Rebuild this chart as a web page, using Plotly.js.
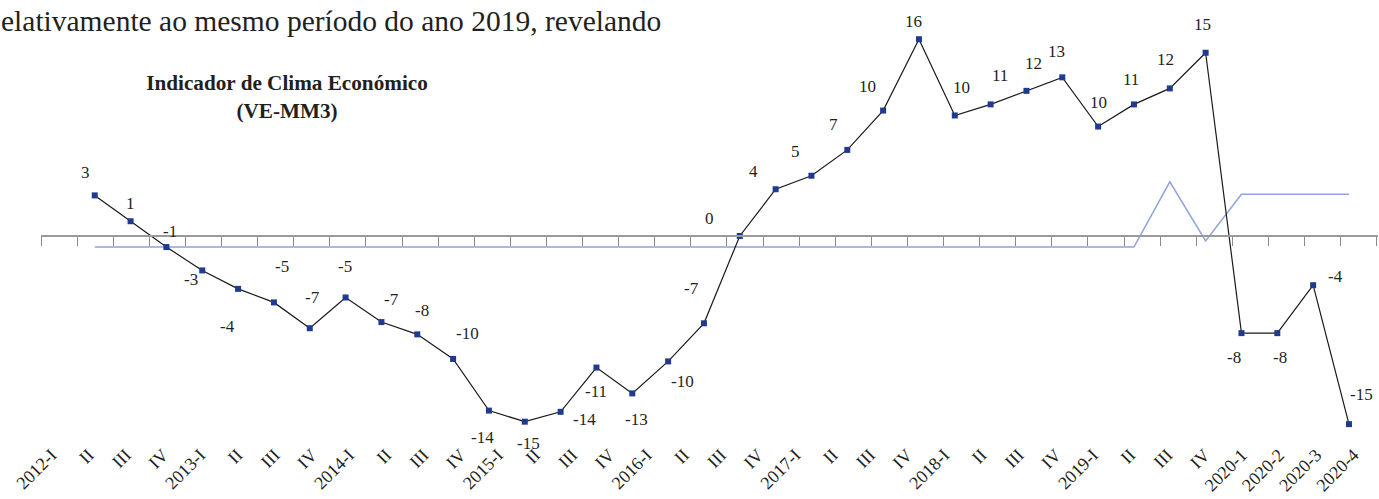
<!DOCTYPE html>
<html>
<head>
<meta charset="utf-8">
<script src="https://cdn.plot.ly/plotly-3.0.1.min.js"></script>
<style>
  html, body { margin: 0; padding: 0; background: #ffffff; }
  #chart { width: 1379px; height: 499px; }
</style>
</head>
<body>
<div id="chart"></div>
<script>
// ---- data ----
const periods = ["2012-I","II","III","IV","2013-I","II","III","IV","2014-I","II","III","IV",
                 "2015-I","II","III","IV","2016-I","II","III","IV","2017-I","II","III","IV",
                 "2018-I","II","III","IV","2019-I","II","III","IV","2020-1","2020-2","2020-3","2020-4"];

const climateIndicator = [3.3, 1.2, -0.9, -2.8, -4.3, -5.4, -7.5, -5.0, -7.0, -8.0, -10.0, -14.2,
                          -15.1, -14.3, -10.7, -12.8, -10.2, -7.1, 0.0, 3.8, 4.9, 7.0, 10.2, 16.0,
                          9.8, 10.7, 11.8, 12.9, 8.9, 10.7, 12.0, 14.9, -7.9, -7.9, -4.0, -15.3];

const climateLabels = ["3","1","-1","-3","-4","-5","-7","-5","-7","-8","-10","-14",
                       "-15","-14","-11","-13","-10","-7","0","4","5","7","10","16",
                       "10","11","12","13","10","11","12","15","-8","-8","-4","-15"];

const secondSeries = [-0.9, -0.9, -0.9, -0.9, -0.9, -0.9, -0.9, -0.9, -0.9, -0.9, -0.9, -0.9,
                      -0.9, -0.9, -0.9, -0.9, -0.9, -0.9, -0.9, -0.9, -0.9, -0.9, -0.9, -0.9,
                      -0.9, -0.9, -0.9, -0.9, -0.9, -0.9, 4.4, -0.4, 3.4, 3.4, 3.4, 3.4];

const chartTitle = "<b>Indicador de Clima Económico</b><br><b>(VE-MM3)</b>";
const bodyText = "elativamente ao mesmo período do ano 2019, revelando";

// ---- style: label offsets in pixels (dx right, dy down) ----
const labelOffsets = [[-9,-23],[0,-18],[4,-16],[-11,9],[-11,38],[8,-36],[3,-31],[-1,-31],[10,-23],[5,-24],[14,-25],[-6,27],
                      [4,22],[24,8],[0,24],[4,26],[14,20],[-12,-35],[-30,-17],[-22,-18],[-16,-24],[-14,-25],[-16,-24],[-5,-18],
                      [7,-28],[9,-29],[7,-27],[-6,-26],[0,-24],[-3,-25],[-4,-29],[-3,-28],[-7,24],[3,24],[22,-9],[13,-30]];

const idx = periods.map((p, i) => i);
const serif = "'Liberation Serif', 'Times New Roman', serif";
const textColor = "#231f20";
const yRange = [-16.59, 16.75];
const zeroPos = (0 - yRange[0]) / (yRange[1] - yRange[0]);
const plotW = 1337;

const traces = [
  {
    x: idx, y: secondSeries, type: "scatter", mode: "lines",
    line: { color: "#8fa3dc", width: 1.5 }, hoverinfo: "skip", showlegend: false
  },
  {
    x: idx, y: climateIndicator, type: "scatter", mode: "lines+markers",
    line: { color: "#1a1a1a", width: 1.2 },
    marker: { symbol: "square", size: 6, color: "#1f3a8f" },
    showlegend: false
  },
  {
    x: [0], y: [0], xaxis: "x2", type: "scatter", mode: "markers",
    marker: { opacity: 0 }, hoverinfo: "skip", showlegend: false
  },
  {
    x: [0], y: [0], xaxis: "x3", type: "scatter", mode: "markers",
    marker: { opacity: 0 }, hoverinfo: "skip", showlegend: false
  }
];

const annotations = climateLabels.map((t, i) => ({
  x: i, y: climateIndicator[i], xref: "x", yref: "y", text: t, showarrow: false,
  xshift: labelOffsets[i][0], yshift: -labelOffsets[i][1],
  font: { family: serif, size: 17, color: textColor }
}));

annotations.push({
  xref: "paper", yref: "paper", x: (663 - 41) / plotW, y: (440 - 21) / 410,
  xanchor: "right", yanchor: "middle", text: bodyText, showarrow: false,
  font: { family: serif, size: 29.5, color: textColor }
});

const layout = {
  width: 1379, height: 499,
  margin: { l: 41, r: 1, t: 30, b: 59 },
  paper_bgcolor: "#ffffff", plot_bgcolor: "#ffffff",
  title: {
    text: chartTitle, x: 287 / 1379, xanchor: "center", xref: "container",
    y: 1 - 90 / 499, yanchor: "top", yref: "container",
    font: { family: serif, size: 21.2, color: textColor }
  },
  xaxis: {
    range: [-1.5, 35.81], showticklabels: false,
    showline: false, showgrid: false, zeroline: false, ticks: ""
  },
  xaxis2: {
    overlaying: "x", anchor: "free", position: zeroPos, side: "bottom",
    range: [0, plotW / 36.1], tick0: 0, dtick: 1, tickmode: "linear",
    ticks: "outside", ticklen: 9, tickwidth: 1, tickcolor: "#8a8a8a",
    showticklabels: false, showline: true, linecolor: "#9a9a9a", linewidth: 2,
    showgrid: false, zeroline: false
  },
  xaxis3: {
    overlaying: "x", anchor: "y", side: "bottom",
    range: [-(51.4 - 41) / 37.2, -(51.4 - 41) / 37.2 + plotW / 37.2],
    tickmode: "array", tickvals: idx, ticktext: periods,
    tickangle: -45, showline: false, showgrid: false, zeroline: false, ticks: "",
    tickfont: { family: serif, size: 18, color: textColor }
  },
  yaxis: { range: yRange, visible: false, showgrid: false, zeroline: false },
  annotations: annotations
};

Plotly.newPlot("chart", traces, layout, { displayModeBar: false, staticPlot: true });
</script>
</body>
</html>
